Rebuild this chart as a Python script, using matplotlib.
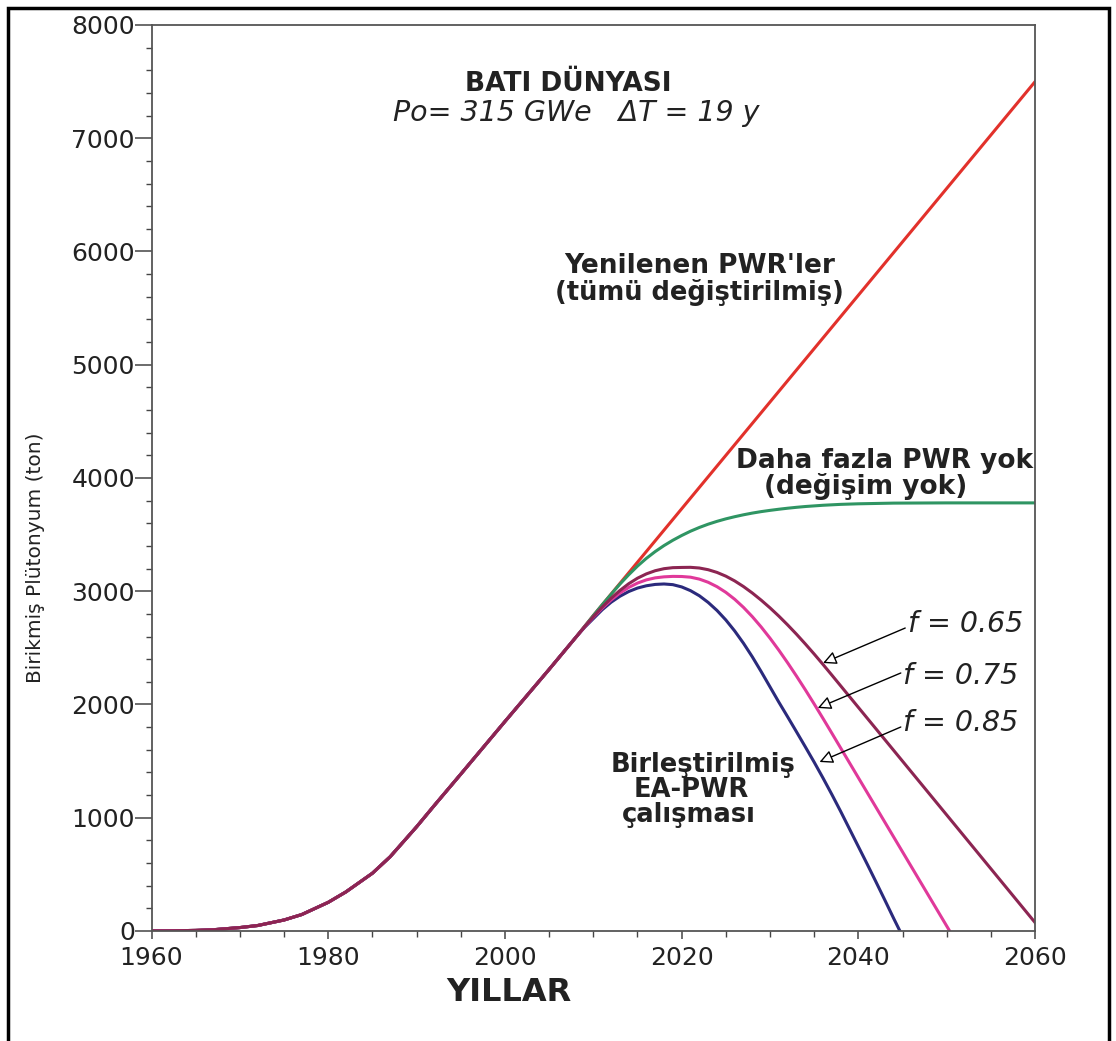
import numpy as np
import matplotlib
matplotlib.use("Agg")
import matplotlib.pyplot as plt
from matplotlib.patches import Rectangle
from matplotlib.ticker import MultipleLocator

# ortak gecmis (1960-2008), tum senaryolarda ayni
yil_ortak = [1960, 1962, 1965, 1967, 1970, 1972, 1975, 1977, 1980, 1982, 1985, 1987,
             1990, 1992, 1995, 1997, 2000, 2002, 2005, 2008]
pu_ortak = [0, 1, 5, 11, 30, 48, 97, 145, 253, 345, 510, 655,
            920, 1108, 1385, 1571, 1850, 2034, 2310, 2591]

# yenilenen PWR'ler
yil_yenilenen = [2010, 2020, 2030, 2040, 2050, 2060]
pu_yenilenen = [2785, 3728, 4671, 5614, 6557, 7500]

# daha fazla PWR yok
yil_pwr_yok = [2010, 2011, 2012, 2013, 2014, 2015, 2016, 2017, 2018, 2019, 2020,
               2021, 2022, 2023, 2024, 2025, 2026, 2027, 2028, 2029, 2030, 2031,
               2032, 2033, 2034, 2036, 2038, 2040, 2044, 2050, 2060]
pu_pwr_yok = [2785, 2880, 2972, 3062, 3145, 3222, 3290, 3350, 3403, 3450, 3492,
              3530, 3563, 3592, 3617, 3639, 3658, 3675, 3690, 3703, 3714, 3724,
              3733, 3741, 3748, 3759, 3767, 3772, 3778, 3780, 3780]

# birlestirilmis EA-PWR, f = 0.65
yil_f65 = [2009, 2010, 2011, 2012, 2013, 2014, 2015, 2016, 2017, 2018, 2019, 2020,
           2021, 2022, 2023, 2024, 2025, 2026, 2027, 2028, 2029, 2030, 2031, 2032,
           2033, 2034, 2035, 2036, 2037, 2038, 2040, 2042, 2044, 2046, 2048, 2050,
           2052, 2054, 2056, 2058, 2060]
pu_f65 = [2685, 2775, 2860, 2937, 3006, 3066, 3115, 3153, 3181, 3199, 3208, 3210,
          3211, 3205, 3190, 3166, 3133, 3091, 3041, 2984, 2921, 2853, 2780, 2702,
          2620, 2534, 2445, 2353, 2259, 2164, 1974, 1784, 1594, 1404, 1214, 1024,
          834, 644, 454, 264, 74]

# f = 0.75
yil_f75 = [2009, 2010, 2011, 2012, 2013, 2014, 2015, 2016, 2017, 2018, 2019, 2020,
           2021, 2022, 2023, 2024, 2025, 2026, 2027, 2028, 2029, 2030, 2031, 2032,
           2033, 2034, 2035, 2036, 2037, 2038, 2040, 2042, 2044, 2046, 2048, 2050,
           2050.33]
pu_f75 = [2684, 2770, 2850, 2922, 2983, 3033, 3072, 3100, 3118, 3127, 3131, 3130,
          3124, 3107, 3079, 3040, 2990, 2929, 2857, 2775, 2684, 2585, 2479, 2367,
          2250, 2129, 2004, 1876, 1746, 1615, 1353, 1091, 829, 567, 305, 43, 0]

# f = 0.85
yil_f85 = [2009, 2010, 2011, 2012, 2013, 2014, 2015, 2016, 2017, 2018, 2019, 2020,
           2021, 2022, 2023, 2024, 2025, 2026, 2027, 2028, 2029, 2030, 2031, 2032,
           2033, 2034, 2035, 2036, 2037, 2038, 2039, 2040, 2041, 2042, 2043, 2044,
           2044.7]
pu_f85 = [2680, 2758, 2836, 2902, 2955, 2997, 3028, 3048, 3060, 3064, 3058, 3038,
          3005, 2960, 2901, 2830, 2746, 2649, 2540, 2420, 2290, 2155, 2020, 1890,
          1758, 1625, 1490, 1350, 1205, 1055, 900, 745, 590, 432, 272, 110, 0]

# ok etiketleri: (etiket, ok ucu, ok kuyrugu)
f_etiket = ["f = 0.65", "f = 0.75", "f = 0.85"]
ok_uc = [(2036.0, 2366), (2035.4, 1969), (2035.6, 1492)]
ok_kuyruk = [(2045.3, 2675), (2044.8, 2278), (2044.8, 1801)]
etiket_y = [2711, 2252, 1837]

koyu = "#222222"

fig = plt.figure(figsize=(11.16, 10.41), dpi=100)
ax = fig.add_axes([0.1358, 0.1057, 0.7917, 0.8703])


def seri(yil, pu):
    return yil_ortak + yil, pu_ortak + pu


ax.plot(*seri(yil_yenilenen, pu_yenilenen), color="#e2312b", lw=2.2)
ax.plot(*seri(yil_pwr_yok, pu_pwr_yok), color="#2f9563", lw=2.2)
ax.plot(*seri(yil_f85, pu_f85), color="#2b2a7c", lw=2.2)
ax.plot(*seri(yil_f75, pu_f75), color="#e0399a", lw=2.2)
ax.plot(*seri(yil_f65, pu_f65), color="#8c2552", lw=2.2)

ax.set_xlim(1960, 2060)
ax.set_ylim(0, 8000)
ax.xaxis.set_major_locator(MultipleLocator(20))
ax.xaxis.set_minor_locator(MultipleLocator(5))
ax.yaxis.set_major_locator(MultipleLocator(1000))
ax.yaxis.set_minor_locator(MultipleLocator(200))

ax.tick_params(axis="y", which="major", length=12, width=1.1, pad=0,
               labelsize=18, colors="#444444", labelcolor=koyu)
ax.tick_params(axis="y", which="minor", length=4.5, width=1.0, colors="#444444")
ax.tick_params(axis="x", which="major", length=6, width=1.1, pad=5,
               labelsize=18, colors="#444444", labelcolor=koyu)
ax.tick_params(axis="x", which="minor", length=4, width=1.0, colors="#444444")
for s in ax.spines.values():
    s.set_color("#555555")
    s.set_linewidth(1.3)

ax.text(0.405, -0.068, "YILLAR", transform=ax.transAxes, ha="center", va="center",
        fontsize=23, fontweight="bold", color=koyu)
ax.text(-0.131, 0.412, "Birikmiş Plütonyum (ton)", transform=ax.transAxes,
        rotation=90, ha="center", va="center", fontsize=14.5, color=koyu)

# baslik
ax.text(2007.2, 7479, "BATI DÜNYASI", ha="center", va="center",
        fontsize=19, fontweight="bold", color=koyu)
ax.text(2008.1, 7223, "Po= 315 GWe   ΔT = 19 y", ha="center", va="center",
        fontsize=20.5, style="italic", color=koyu)

# egri etiketleri
ax.text(2022.0, 5872, "Yenilenen PWR'ler", ha="center", va="center",
        fontsize=19, fontweight="bold", color=koyu)
ax.text(2022.0, 5642, "(tümü değiştirilmiş)", ha="center", va="center",
        fontsize=18.5, fontweight="bold", color=koyu)
ax.text(2043.0, 4146, "Daha fazla PWR yok", ha="center", va="center",
        fontsize=19, fontweight="bold", color=koyu)
ax.text(2040.8, 3921, "(değişim yok)", ha="center", va="center",
        fontsize=19, fontweight="bold", color=koyu)
ax.text(2022.4, 1466, "Birleştirilmiş", ha="center", va="center",
        fontsize=18.5, fontweight="bold", color=koyu)
ax.text(2021.1, 1245, "EA-PWR", ha="center", va="center",
        fontsize=18.5, fontweight="bold", color=koyu)
ax.text(2020.8, 1024, "çalışması", ha="center", va="center",
        fontsize=18.5, fontweight="bold", color=koyu)

for etiket, uc, kuyruk, ey in zip(f_etiket, ok_uc, ok_kuyruk, etiket_y):
    ax.annotate("", xy=uc, xytext=kuyruk,
                arrowprops=dict(arrowstyle="-|>", fc="white", ec="black",
                                lw=1.0, mutation_scale=20, shrinkA=0, shrinkB=0))
    ax.text(kuyruk[0] + 0.3, ey, etiket, ha="left", va="center",
            fontsize=20.5, style="italic", color=koyu)

# dis cerceve
fig.patches.append(Rectangle((8 / 1116, -0.02), 1101 / 1116, 1.02 - 8 / 1041,
                             transform=fig.transFigure, fill=False,
                             ec="black", lw=2.5, clip_on=False))

fig.savefig("out.png", dpi=100)
